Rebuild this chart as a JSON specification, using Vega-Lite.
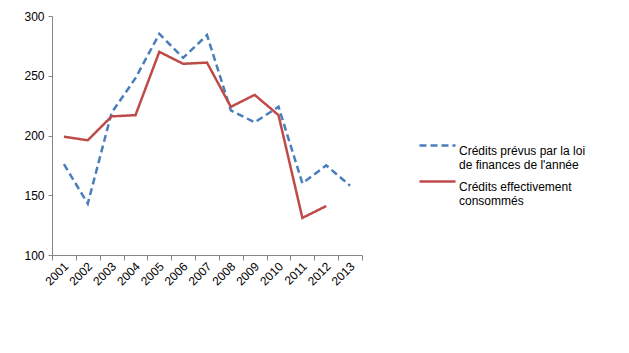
{
  "$schema": "https://vega.github.io/schema/vega-lite/v6.json",
  "width": 310,
  "height": 239,
  "autosize": {"type": "none"},
  "padding": {"left": 52, "top": 16, "right": 267, "bottom": 98},
  "background": "white",
  "config": {
    "view": {"stroke": null},
    "font": "Liberation Sans",
    "axis": {"labelFont": "Liberation Sans", "labelFontSize": 12, "labelColor": "#000000", "domainColor": "#868686", "tickColor": "#868686", "grid": false, "title": null}
  },
  "data": {
    "values": [
      {"annee": "2001", "serie": "prevus", "valeur": 176},
      {"annee": "2002", "serie": "prevus", "valeur": 143},
      {"annee": "2003", "serie": "prevus", "valeur": 219},
      {"annee": "2004", "serie": "prevus", "valeur": 248},
      {"annee": "2005", "serie": "prevus", "valeur": 285},
      {"annee": "2006", "serie": "prevus", "valeur": 265},
      {"annee": "2007", "serie": "prevus", "valeur": 284},
      {"annee": "2008", "serie": "prevus", "valeur": 221},
      {"annee": "2009", "serie": "prevus", "valeur": 211},
      {"annee": "2010", "serie": "prevus", "valeur": 224},
      {"annee": "2011", "serie": "prevus", "valeur": 160},
      {"annee": "2012", "serie": "prevus", "valeur": 175},
      {"annee": "2013", "serie": "prevus", "valeur": 158},
      {"annee": "2001", "serie": "consommes", "valeur": 199},
      {"annee": "2002", "serie": "consommes", "valeur": 196},
      {"annee": "2003", "serie": "consommes", "valeur": 216},
      {"annee": "2004", "serie": "consommes", "valeur": 217},
      {"annee": "2005", "serie": "consommes", "valeur": 270},
      {"annee": "2006", "serie": "consommes", "valeur": 260},
      {"annee": "2007", "serie": "consommes", "valeur": 261},
      {"annee": "2008", "serie": "consommes", "valeur": 224},
      {"annee": "2009", "serie": "consommes", "valeur": 234},
      {"annee": "2010", "serie": "consommes", "valeur": 217},
      {"annee": "2011", "serie": "consommes", "valeur": 131},
      {"annee": "2012", "serie": "consommes", "valeur": 141}
    ]
  },
  "mark": {"type": "line", "strokeWidth": 2.5},
  "encoding": {
    "x": {
      "field": "annee", "type": "ordinal",
      "scale": {"type": "band", "paddingInner": 0, "paddingOuter": 0},
      "axis": {"labelAngle": -45, "labelAlign": "right", "labelBaseline": "middle", "tickBand": "extent", "tickSize": 5, "labelPadding": 4, "labelOffset": 2}
    },
    "y": {
      "field": "valeur", "type": "quantitative",
      "scale": {"domain": [100, 300], "nice": false, "zero": false},
      "axis": {"values": [100, 150, 200, 250, 300], "tickSize": 4, "labelPadding": 4}
    },
    "color": {
      "field": "serie", "type": "nominal",
      "scale": {"domain": ["prevus", "consommes"], "range": ["#4a7ebb", "#be4b48"]},
      "legend": {
        "title": null,
        "orient": "none",
        "legendX": 366,
        "legendY": 110,
        "values": ["prevus"],
        "symbolType": "stroke",
        "symbolSize": 1300,
        "symbolStrokeWidth": 2.5,
        "symbolDash": [7, 4],
        "labelFontSize": 12,
        "labelFont": "Liberation Sans",
        "labelColor": "#000000",
        "labelLimit": 300,
        "labelOffset": 2,
        "labelBaseline": "top",
        "labelExpr": "['Crédits prévus par la loi', 'de finances de l\\'année']"
      }
    },
    "strokeDash": {
      "field": "serie", "type": "nominal",
      "scale": {"domain": ["consommes", "prevus"], "range": [[1, 0], [7, 4]]},
      "legend": {
        "title": null,
        "orient": "none",
        "legendX": 366,
        "legendY": 146,
        "values": ["consommes"],
        "symbolType": "stroke",
        "symbolSize": 1300,
        "symbolStrokeWidth": 2.5,
        "symbolStrokeColor": "#be4b48",
        "labelFontSize": 12,
        "labelFont": "Liberation Sans",
        "labelColor": "#000000",
        "labelLimit": 300,
        "labelOffset": 2,
        "labelBaseline": "top",
        "labelExpr": "['Crédits effectivement', 'consommés']"
      }
    }
  }
}
